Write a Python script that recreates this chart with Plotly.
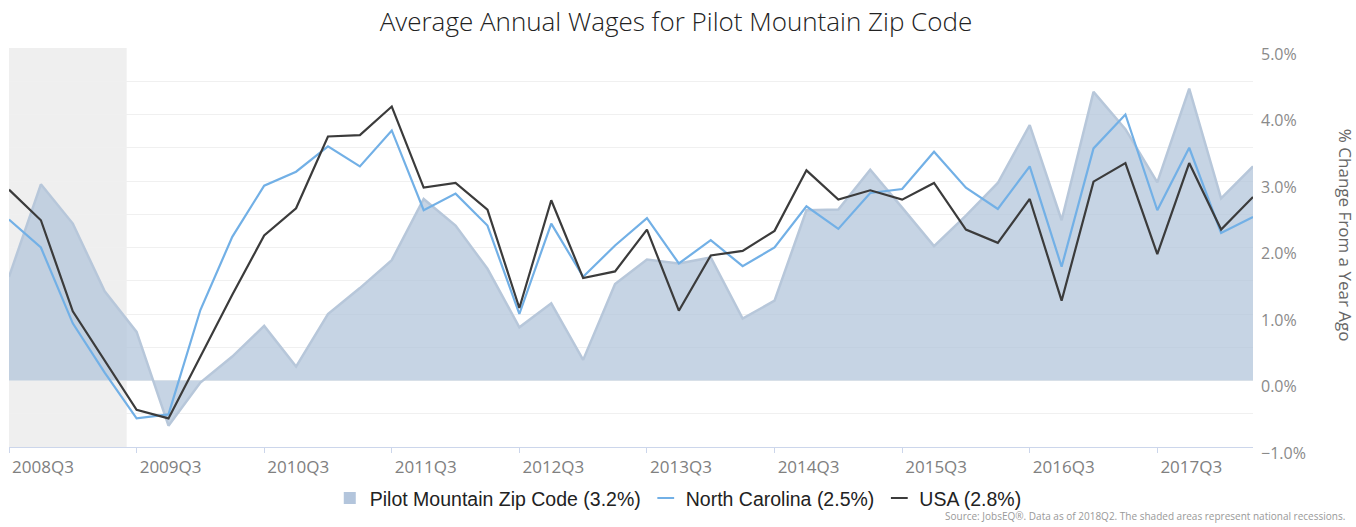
import plotly.graph_objects as go

quarters = ["2008Q3","2008Q4","2009Q1","2009Q2","2009Q3","2009Q4","2010Q1","2010Q2",
            "2010Q3","2010Q4","2011Q1","2011Q2","2011Q3","2011Q4","2012Q1","2012Q2",
            "2012Q3","2012Q4","2013Q1","2013Q2","2013Q3","2013Q4","2014Q1","2014Q2",
            "2014Q3","2014Q4","2015Q1","2015Q2","2015Q3","2015Q4","2016Q1","2016Q2",
            "2016Q3","2016Q4","2017Q1","2017Q2","2017Q3","2017Q4","2018Q1","2018Q2"]

pilot = [1.56, 2.95, 2.36, 1.34, 0.73, -0.68, -0.03, 0.36, 0.82, 0.21,
         1.00, 1.39, 1.81, 2.73, 2.33, 1.68, 0.80, 1.16, 0.31, 1.45,
         1.82, 1.76, 1.85, 0.93, 1.20, 2.56, 2.57, 3.17, 2.60, 2.02,
         2.48, 2.97, 3.84, 2.41, 4.34, 3.78, 2.98, 4.39, 2.74, 3.22]

nc = [2.42, 2.00, 0.86, 0.12, -0.57, -0.51, 1.06, 2.16, 2.93, 3.14,
      3.52, 3.22, 3.76, 2.56, 2.81, 2.33, 1.00, 2.36, 1.56, 2.03,
      2.44, 1.76, 2.11, 1.72, 2.00, 2.62, 2.28, 2.82, 2.88, 3.44,
      2.90, 2.58, 3.22, 1.71, 3.49, 4.00, 2.56, 3.50, 2.22, 2.46]

usa = [2.87, 2.41, 1.04, 0.29, -0.44, -0.57, 0.36, 1.29, 2.18, 2.59,
       3.67, 3.69, 4.12, 2.90, 2.97, 2.57, 1.09, 2.71, 1.54, 1.64,
       2.27, 1.05, 1.88, 1.95, 2.25, 3.16, 2.72, 2.86, 2.72, 2.97,
       2.27, 2.07, 2.73, 1.20, 2.99, 3.27, 1.90, 3.27, 2.27, 2.76]

series_names = ["Pilot Mountain Zip Code (3.2%)", "North Carolina (2.5%)", "USA (2.8%)"]

tick_idx = list(range(0, len(quarters), 4))
tick_text = [quarters[i] for i in tick_idx]
xs = list(range(len(quarters)))

AREA_FILL = "rgba(176,196,218,0.72)"
AREA_LINE = "#b7c7da"
NC_COLOR = "#72b0e6"
USA_COLOR = "#3b3b3b"

fig = go.Figure()

# recession shading
fig.add_shape(type="rect", xref="x", yref="paper", x0=0, x1=3.69, y0=0, y1=1,
              fillcolor="#efefef", line=dict(width=0), layer="below")

fig.add_trace(go.Scatter(
    x=xs, y=pilot, name=series_names[0], mode="lines", showlegend=False,
    fill="tozeroy", fillcolor=AREA_FILL,
    line=dict(color=AREA_LINE, width=2.5), hoverinfo="skip"))
fig.add_trace(go.Scatter(
    x=xs, y=nc, name=series_names[1], mode="lines", showlegend=False,
    line=dict(color=NC_COLOR, width=2.2)))
fig.add_trace(go.Scatter(
    x=xs, y=usa, name=series_names[2], mode="lines", showlegend=False,
    line=dict(color=USA_COLOR, width=2.2)))

# legend entries with small symbols like the reference
fig.add_trace(go.Scatter(x=[None], y=[None], mode="markers", name=series_names[0],
                         marker=dict(symbol="square", size=11, color="#b3c5dc")))
fig.add_trace(go.Scatter(x=[None], y=[None], mode="markers", name=series_names[1],
                         marker=dict(symbol="line-ew", size=9,
                                     line=dict(color=NC_COLOR, width=3))))
fig.add_trace(go.Scatter(x=[None], y=[None], mode="markers", name=series_names[2],
                         marker=dict(symbol="line-ew", size=9,
                                     line=dict(color=USA_COLOR, width=3))))

fig.update_layout(
    width=1356, height=527,
    margin=dict(l=9, r=103, t=48, b=77),
    paper_bgcolor="white", plot_bgcolor="white",
    title=dict(text="Average Annual Wages for Pilot Mountain Zip Code",
               x=0.4985, xanchor="center", y=0.958, yanchor="middle",
               font=dict(family="Open Sans", size=26, color="#222", weight=300)),
    showlegend=True,
    legend=dict(orientation="h", x=0.538, xanchor="center", y=-0.08, yanchor="top",
                font=dict(family="Liberation Sans", size=19.5, color="#222"),
                itemwidth=30, tracegroupgap=0, itemsizing="constant"),
    xaxis=dict(range=[0, 39], tickmode="array", tickvals=tick_idx, ticktext=tick_text,
               showgrid=False, zeroline=False, showline=True, linecolor="#ccd6eb",
               linewidth=1, ticks="outside", ticklen=5, tickcolor="#ccd6eb",
               tickfont=dict(family="Open Sans", size=17, color="#808080"),
               ticklabelshift=34, ticklabelstandoff=0),
    yaxis=dict(range=[-1, 5], side="right", dtick=1, tick0=0,
               tickformat=".1f", ticksuffix="%",
               showgrid=True, gridcolor="#f0f0f0", gridwidth=1,
               minor=dict(dtick=0.5, showgrid=True, gridcolor="#f0f0f0", gridwidth=1),
               zeroline=False, showline=False,
               tickfont=dict(family="Open Sans", size=16, color="#8a8a8a"),
               ticklabelshift=6, ticklabelstandoff=7),
    annotations=[
        dict(text="% Change From a Year Ago", xref="paper", yref="paper",
             x=1.0745, y=0.53, xanchor="center", yanchor="middle", textangle=90,
             showarrow=False, font=dict(family="Open Sans", size=17, color="#666")),
        dict(text="Source: JobsEQ®. Data as of 2018Q2. The shaded areas represent national recessions.",
             xref="paper", yref="paper", x=1.0755, y=-0.172, xanchor="right", yanchor="middle",
             showarrow=False, font=dict(family="Open Sans", size=10, color="#999")),
    ],
)

fig.write_html("out.html", config={"displayModeBar": False},
               post_script="document.body.style.margin='0';")
